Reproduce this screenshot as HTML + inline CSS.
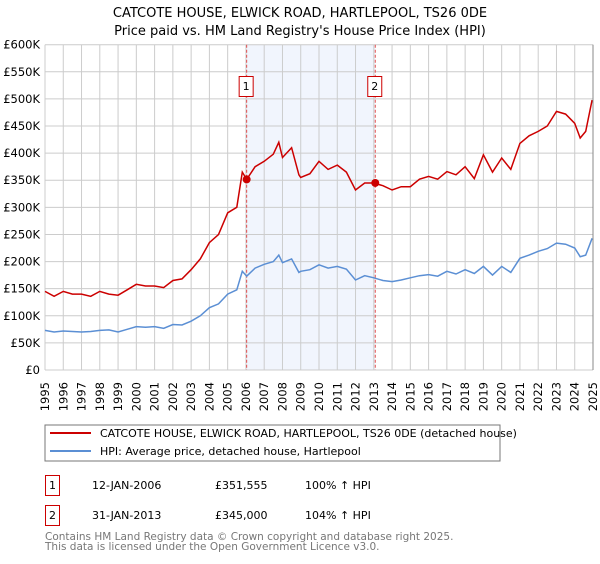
<!DOCTYPE html>
<html><head><meta charset="utf-8"><style>
body{margin:0;background:#fff;font-family:"DejaVu Sans","Liberation Sans",sans-serif;}
svg text{font-family:"DejaVu Sans","Liberation Sans",sans-serif;}
</style></head><body>
<svg id="chart" width="600" height="560" xmlns="http://www.w3.org/2000/svg">
<text x="300" y="17" text-anchor="middle" font-size="13">CATCOTE HOUSE, ELWICK ROAD, HARTLEPOOL, TS26 0DE</text>
<text x="300" y="35" text-anchor="middle" font-size="13">Price paid vs. HM Land Registry's House Price Index (HPI)</text>
<g id="grid"></g><g id="series"></g><g id="axes"></g>
<rect x="45" y="425" width="455" height="36" fill="#fff" stroke="#777"/>
<line x1="50" y1="433" x2="91" y2="433" stroke="#cc0000" stroke-width="2"/>
<text x="100" y="437" font-size="11">CATCOTE HOUSE, ELWICK ROAD, HARTLEPOOL, TS26 0DE (detached house)</text>
<line x1="50" y1="451" x2="91" y2="451" stroke="#5b8fd4" stroke-width="2"/>
<text x="100" y="455" font-size="11">HPI: Average price, detached house, Hartlepool</text>
<g font-size="11">
<rect x="45.5" y="475.5" width="14" height="20" fill="none" stroke="#cc0000"/>
<text x="52.5" y="489" text-anchor="middle">1</text>
<text x="92" y="489">12-JAN-2006</text><text x="215" y="489">£351,555</text><text x="305" y="489">100% ↑ HPI</text></g>
<g font-size="11">
<rect x="45.5" y="505.5" width="14" height="20" fill="none" stroke="#cc0000"/>
<text x="52.5" y="519" text-anchor="middle">2</text>
<text x="92" y="519">31-JAN-2013</text><text x="215" y="519">£345,000</text><text x="305" y="519">104% ↑ HPI</text></g>
<text x="45" y="540" font-size="10.5" fill="#777">Contains HM Land Registry data © Crown copyright and database right 2025.</text>
<text x="45" y="550" font-size="10.5" fill="#777">This data is licensed under the Open Government Licence v3.0.</text>
</svg>
<script>
const hpiYears=[1995,1995.5,1996,1996.5,1997,1997.5,1998,1998.5,1999,1999.5,2000,2000.5,2001,2001.5,2002,2002.5,2003,2003.5,2004,2004.5,2005,2005.5,2005.8,2006.04,2006.5,2007,2007.5,2007.8,2008,2008.5,2008.9,2009,2009.5,2010,2010.5,2011,2011.5,2012,2012.5,2013,2013.5,2014,2014.5,2015,2015.5,2016,2016.5,2017,2017.5,2018,2018.5,2019,2019.5,2020,2020.5,2021,2021.5,2022,2022.5,2023,2023.5,2024,2024.3,2024.6,2024.95];
const hpiValues=[73,70,72,71,70,71,73,74,70,75,80,79,80,77,84,83,90,100,115,122,140,148,182,173,188,195,200,212,198,205,180,182,185,194,188,191,186,166,174,170,165,163,166,170,174,176,173,182,177,185,178,191,175,191,180,206,212,219,224,234,232,225,209,212,243];
const priceYears=hpiYears;
const priceValues=[145,136,145,140,140,136,145,140,138,148,158,155,155,152,165,168,185,205,235,250,290,300,365,351.5,375,385,398,420,392,410,360,355,362,385,370,378,365,332,345,345,340,332,338,338,352,357,352,366,360,375,353,397,365,391,370,418,432,440,450,477,472,455,428,440,498];
const yTicks=[0,50,100,150,200,250,300,350,400,450,500,550,600];
const yTickLabels=["£0","£50K","£100K","£150K","£200K","£250K","£300K","£350K","£400K","£450K","£500K","£550K","£600K"];
const xTicks=[1995,1996,1997,1998,1999,2000,2001,2002,2003,2004,2005,2006,2007,2008,2009,2010,2011,2012,2013,2014,2015,2016,2017,2018,2019,2020,2021,2022,2023,2024,2025];
const saleYears=[2006.04,2013.08];
const salePrices=[351.555,345];
const saleLabels=["1","2"];
const NS="http://www.w3.org/2000/svg";
const X0=45,X1=593,Y0=370,Y1=44.7;
const xs=y=>X0+(y-1995)/30*(X1-X0);
const ys=v=>Y0-v/600*(Y0-Y1);
function mk(t,a,p){const e=document.createElementNS(NS,t);for(const k in a)e.setAttribute(k,a[k]);p.appendChild(e);return e;}
const grid=document.getElementById('grid'),ser=document.getElementById('series'),ax=document.getElementById('axes');
const shade=mk('rect',{x:xs(saleYears[0]),y:Y1,width:xs(saleYears[1])-xs(saleYears[0]),height:Y0-Y1,fill:'#eef3fc',opacity:0.8},grid);


yTicks.forEach((v,i)=>{
 const l=mk('line',{x1:X0,x2:X1,y1:ys(v),y2:ys(v),stroke:'#ccc'},grid);
 
 
 const t=mk('text',{x:40,y:ys(v)+4,'text-anchor':'end','font-size':'11.5'},ax);
 t.textContent=yTickLabels[i];
 
 
});
xTicks.forEach(yr=>{
 const l=mk('line',{x1:xs(yr),x2:xs(yr),y1:Y1,y2:Y0,stroke:'#ccc'},grid);
 
 
 const t=mk('text',{x:0,y:0,'text-anchor':'end','font-size':'11.5',transform:`translate(${xs(yr)+4},${Y0+12}) rotate(-90)`},ax);
 t.textContent=yr;
 
 
});
saleYears.forEach((yr,i)=>{
 const l=mk('line',{x1:xs(yr),x2:xs(yr),y1:Y1,y2:Y0,stroke:'#e05050','stroke-dasharray':'3,2','stroke-width':1},grid);
 
 
});
function path(xa,va){return xa.map((x,i)=>(i?'L':'M')+xs(x).toFixed(1)+','+ys(va[i]).toFixed(1)).join(' ');}
const hp=mk('path',{d:path(hpiYears,hpiValues),fill:'none',stroke:'#5b8fd4','stroke-width':1.5},ser);


const pp=mk('path',{d:path(priceYears,priceValues),fill:'none',stroke:'#cc0000','stroke-width':1.5},ser);


saleYears.forEach((yr,i)=>{
 const c=mk('circle',{cx:xs(yr),cy:ys(salePrices[i]),r:4,fill:'#cc0000'},ser);
 
 
 const r=mk('rect',{x:xs(yr)-7.5,y:76.5,width:14,height:20,fill:'#fff',stroke:'#cc0000'},ser);
 
 
 const t=mk('text',{x:xs(yr)-0.5,y:90,'text-anchor':'middle','font-size':'11'},ser);
 t.textContent=saleLabels[i];
 
 
});
const bx=mk('line',{x1:X1,x2:X1,y1:Y1,y2:Y0,stroke:'#888'},ax);


</script>
</body></html>
